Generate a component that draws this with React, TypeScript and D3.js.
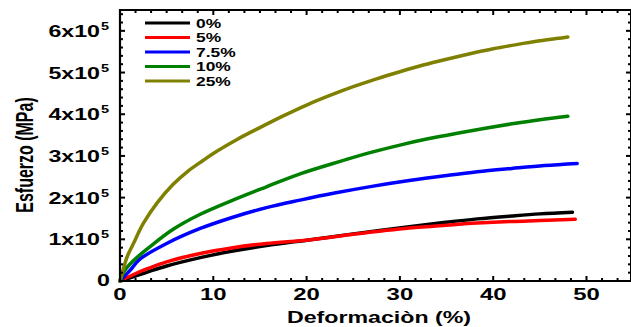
import React from "react";
import * as d3 from "d3";

const seriesNames = ["0%", "5%", "7.5%", "10%", "25%"];
const seriesColors = ["#000000", "#ff0000", "#0000ff", "#008000", "#808000"];

const x0 = [0, 1.4, 3, 5, 8.6, 12.1, 15.7, 20.4, 25, 31, 35, 38.3, 42, 45, 48.5];
const y0 = [0, 0.1e5, 0.22e5, 0.36e5, 0.56e5, 0.72e5, 0.85e5, 0.99e5, 1.13e5, 1.3e5, 1.41e5, 1.49e5, 1.56e5, 1.61e5, 1.65e5];

const x5 = [0, 1.4, 3, 5, 8.6, 12.1, 15.7, 20.4, 25, 31, 35, 38.3, 42, 45, 48.8];
const y5 = [0, 0.15e5, 0.3e5, 0.46e5, 0.66e5, 0.8e5, 0.9e5, 0.99e5, 1.12e5, 1.27e5, 1.34e5, 1.39e5, 1.43e5, 1.45e5, 1.48e5];

const x75 = [0, 0.5, 1.1, 2.1, 5, 8.6, 12.1, 15.7, 19.3, 23, 27, 31, 35, 38.3, 42, 45.5, 49];
const y75 = [0, 0.12e5, 0.26e5, 0.52e5, 0.9e5, 1.26e5, 1.53e5, 1.76e5, 1.94e5, 2.11e5, 2.27e5, 2.41e5, 2.53e5, 2.62e5, 2.7e5, 2.77e5, 2.82e5];

const x10 = [0, 0.5, 1.4, 3.2, 5.7, 8.6, 12.1, 15.7, 19.3, 23.6, 27, 30, 33, 36, 39, 42, 45, 48];
const y10 = [0, 0.25e5, 0.48e5, 0.82e5, 1.24e5, 1.6e5, 1.94e5, 2.26e5, 2.57e5, 2.87e5, 3.09e5, 3.26e5, 3.41e5, 3.54e5, 3.66e5, 3.77e5, 3.87e5, 3.95e5];

const x25 = [0, 0.3, 0.8, 1.4, 2.5, 4, 5.7, 7.2, 8.9, 10, 12.5, 15, 17.5, 20, 22.5, 25, 27.5, 30, 32.5, 35, 37.5, 40, 42.5, 45, 47, 48];
const y25 = [0, 0.25e5, 0.6e5, 0.88e5, 1.38e5, 1.88e5, 2.32e5, 2.62e5, 2.89e5, 3.06e5, 3.39e5, 3.68e5, 3.96e5, 4.22e5, 4.45e5, 4.66e5, 4.85e5, 5.02e5, 5.18e5, 5.32e5, 5.45e5, 5.57e5, 5.67e5, 5.76e5, 5.82e5, 5.85e5];

const seriesX = [x0, x5, x75, x10, x25];
const seriesY = [y0, y5, y75, y10, y25];

const xTicks = [0, 10, 20, 30, 40, 50];
const yTicks = [0, 1, 2, 3, 4, 5, 6];

const FONT = "'Liberation Sans', Arial, sans-serif";
const SX = 1.45;

export default function App() {
  const W = 631, H = 327;
  const left = 120, right = 631, top = 10, bottom = 281;
  const x = d3.scaleLinear().domain([0, 54.77]).range([left, right]);
  const y = d3.scaleLinear().domain([0, 6.5e5]).range([bottom, top]);

  const line = d3
    .line<[number, number]>()
    .x((d) => x(d[0]))
    .y((d) => y(d[1]))
    .curve(d3.curveCatmullRom.alpha(0.5));

  const xMinor: number[] = [];
  for (let i = 0; i * (10 / 6) <= 54.7; i++) xMinor.push(i * (10 / 6));
  const yMinor: number[] = [];
  for (let i = 0; i * 0.2e5 <= 6.5e5; i++) yMinor.push(i * 0.2e5);

  return (
    <svg width={W} height={H} style={{ position: "absolute", left: 0, top: 0, background: "#fff" }}>
      {seriesX.map((xs, i) => (
        <path
          key={i}
          d={line(xs.map((v, j) => [v, seriesY[i][j]] as [number, number])) || ""}
          fill="none"
          stroke={seriesColors[i]}
          strokeWidth={3.5}
          strokeLinejoin="round"
          strokeLinecap="round"
        />
      ))}

      <line x1={left} x2={left} y1={top - 1} y2={bottom + 1} stroke="#000" strokeWidth={2.2} />
      <line x1={left - 1} x2={right} y1={bottom} y2={bottom} stroke="#000" strokeWidth={2.2} />
      <line x1={left - 1} x2={right} y1={top} y2={top} stroke="#000" strokeWidth={2.2} />
      <line x1={right} x2={right} y1={top} y2={bottom} stroke="#000" strokeWidth={2} />

      {xMinor.map((v, i) => {
        const major = i % 6 === 0;
        const len = major ? 5 : 3;
        return (
          <g key={"xm" + i}>
            <line x1={x(v)} x2={x(v)} y1={bottom} y2={bottom - len} stroke="#000" strokeWidth={2} />
            <line x1={x(v)} x2={x(v)} y1={top} y2={top + len} stroke="#000" strokeWidth={2} />
          </g>
        );
      })}
      {yMinor.map((v, i) => {
        const major = i % 5 === 0;
        const len = major ? 5 : 3;
        return (
          <g key={"ym" + i}>
            <line x1={left} x2={left + len} y1={y(v)} y2={y(v)} stroke="#000" strokeWidth={2} />
            <line x1={right} x2={right - len} y1={y(v)} y2={y(v)} stroke="#000" strokeWidth={2} />
          </g>
        );
      })}

      {xTicks.map((v) => (
        <text
          key={"xl" + v}
          transform={`translate(${x(v)},300) scale(${SX},1)`}
          textAnchor="middle"
          fontFamily={FONT}
          fontWeight="bold"
          fontSize={16.5}
        >
          {v}
        </text>
      ))}

      {yTicks.map((v) =>
        v === 0 ? (
          <text
            key={"yl" + v}
            transform={`translate(110,${y(0) + 5}) scale(${SX},1)`}
            textAnchor="end"
            fontFamily={FONT}
            fontWeight="bold"
            fontSize={16}
          >
            0
          </text>
        ) : (
          <g key={"yl" + v}>
            <text
              transform={`translate(100,${y(v * 1e5) + 6}) scale(${SX},1)`}
              textAnchor="end"
              fontFamily={FONT}
              fontWeight="bold"
              fontSize={16}
            >
              {v + "x10"}
            </text>
            <text
              transform={`translate(101,${y(v * 1e5) - 1}) scale(${SX},1)`}
              textAnchor="start"
              fontFamily={FONT}
              fontWeight="bold"
              fontSize={10}
            >
              5
            </text>
          </g>
        )
      )}

      <text
        transform={`translate(379,323) scale(${SX},1)`}
        textAnchor="middle"
        fontFamily={FONT}
        fontWeight="bold"
        fontSize={16}
      >
        Deformaciòn (%)
      </text>
      <text
        transform={`translate(33,155) scale(${SX},1) rotate(-90)`}
        textAnchor="middle"
        fontFamily={FONT}
        fontWeight="bold"
        fontSize={16}
      >
        Esfuerzo (MPa)
      </text>

      {seriesNames.map((n, i) => {
        const ly = 23 + i * 14.5;
        return (
          <g key={"lg" + i}>
            <line x1={145} x2={190} y1={ly} y2={ly} stroke={seriesColors[i]} strokeWidth={3} />
            <text
              transform={`translate(196,${ly + 4.5}) scale(${SX},1)`}
              fontFamily={FONT}
              fontWeight="bold"
              fontSize={12}
            >
              {n}
            </text>
          </g>
        );
      })}
    </svg>
  );
}
